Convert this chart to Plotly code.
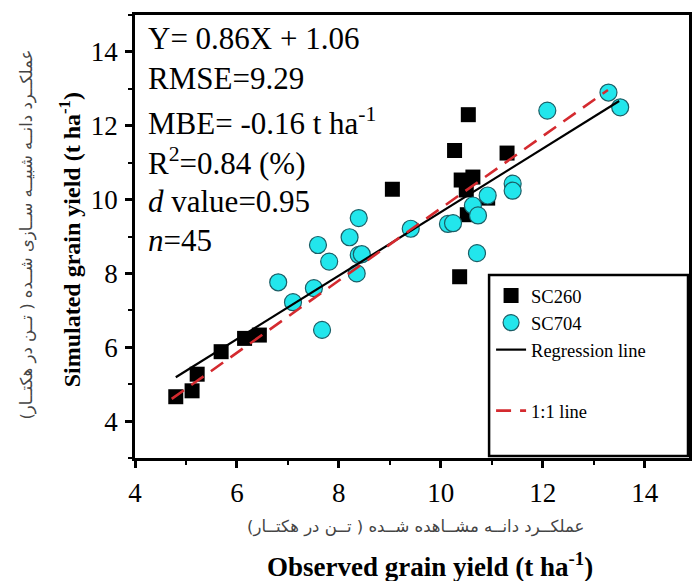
import plotly.graph_objects as go

# ---- data ----
sc260_x = [4.80, 5.12, 5.22, 5.69, 6.15, 6.44, 9.05, 10.54, 10.27, 11.30, 10.40, 10.63, 10.50, 10.92, 10.52, 10.37]
sc260_y = [4.66, 4.82, 5.27, 5.88, 6.24, 6.33, 10.28, 12.30, 11.33, 11.26, 10.53, 10.61, 10.26, 10.04, 9.59, 7.91]

sc704_x = [7.10, 6.81, 7.51, 7.67, 7.59, 7.81, 8.21, 8.39, 8.39, 8.45, 8.35, 9.41, 10.14, 10.24,
           10.63, 10.73, 10.92, 11.41, 11.41, 10.71, 12.09, 13.29, 13.52]
sc704_y = [7.22, 7.76, 7.60, 6.47, 8.77, 8.32, 8.98, 9.50, 8.50, 8.52, 8.00, 9.21, 9.34, 9.36,
           9.84, 9.57, 10.11, 10.43, 10.24, 8.55, 12.41, 12.90, 12.50]

slope, intercept = 0.86, 1.06
reg_x = [4.8, 13.5]
one_x = [4.72, 13.28]          # 1:1 line as drawn in the picture
one_y = [4.60, 12.97]

stats_lines = [
    "Y= 0.86X + 1.06",
    "RMSE=9.29",
    "MBE= -0.16 t ha<sup>-1</sup>",
    "R<sup>2</sup>=0.84 (%)",
    "<i>d</i> value=0.95",
    "<i>n</i>=45",
]

x_ticks = [4, 6, 8, 10, 12, 14]
y_ticks = [4, 6, 8, 10, 12, 14]

SERIF = "Liberation Serif, Times New Roman, serif"

fig = go.Figure()
fig.add_trace(go.Scatter(
    x=sc260_x, y=sc260_y, mode="markers", name="SC260", legendgroup="a",
    marker=dict(symbol="square", size=15, color="black", line=dict(width=0)),
))
fig.add_trace(go.Scatter(
    x=sc704_x, y=sc704_y, mode="markers", name="SC704", legendgroup="a",
    marker=dict(symbol="circle", size=17, color="#22E6EC", line=dict(width=1.2, color="#1B5E66")),
))
fig.add_trace(go.Scatter(
    x=reg_x, y=[slope * v + intercept for v in reg_x], mode="lines", name="Regression line",
    legendgroup="a", line=dict(color="black", width=2.2),
))
fig.add_trace(go.Scatter(
    x=one_x, y=one_y, mode="lines", name="1:1 line", legendgroup="c",
    line=dict(color="#D42A2F", width=2.6, dash="15px,9px"),
))

L, T, B = 135, 15, 123
W, H = 692, 581
ph = H - T - B
pw = W - L

def py(p):
    return (H - B - p) / ph

def px(p):
    return (p - L) / pw

centers = [38, 79, 121, 162, 201, 240]
for txt, c in zip(stats_lines, centers):
    fig.add_annotation(text=txt, xref="paper", yref="paper", x=px(146), y=py(c),
                       xanchor="left", yanchor="middle", showarrow=False,
                       font=dict(family=SERIF, size=31, color="black"))

# axis titles
fig.add_annotation(text="Simulated grain yield (t ha<sup>-1</sup>)", textangle=-90,
                   xref="paper", yref="paper", x=px(70), y=py(240), xanchor="center", yanchor="middle",
                   showarrow=False, font=dict(family=SERIF, size=24, color="black", weight="bold"))
fig.add_annotation(text="عملکــرد دانــه شبیــه ســازی شــده ( تــن در هکتــار)", textangle=-90,
                   xref="paper", yref="paper", x=px(26), y=py(235), xanchor="center", yanchor="middle",
                   showarrow=False, font=dict(family="DejaVu Sans", size=16.5, color="#444444"))
fig.add_annotation(text="Observed grain yield (t ha<sup>-1</sup>)",
                   xref="paper", yref="paper", x=px(432), y=py(565), xanchor="center", yanchor="middle",
                   showarrow=False, font=dict(family=SERIF, size=27, color="black", weight="bold"))
fig.add_annotation(text="عملکــرد دانــه مشــاهده شــده ( تــن در هکتــار)",
                   xref="paper", yref="paper", x=px(417), y=py(527), xanchor="center", yanchor="middle",
                   showarrow=False, font=dict(family="DejaVu Sans", size=16.5, color="#444444"))

# legend box
fig.add_shape(type="rect", xref="paper", yref="paper", x0=px(491), x1=px(691), y0=py(456), y1=py(275),
              line=dict(color="black", width=2.5), fillcolor="rgba(0,0,0,0)", layer="above")

axis_common = dict(showline=True, linecolor="black", linewidth=2.5, mirror=True,
                   ticks="outside", ticklen=7, tickwidth=2.5, tickcolor="black",
                   showgrid=False, zeroline=False,
                   tickfont=dict(family=SERIF, size=27, color="black"),
                   minor=dict(ticks="outside", ticklen=4, tickwidth=2, tickcolor="black", dtick=1))

fig.update_xaxes(range=[4, 14.87], tickvals=x_ticks, ticklabelstandoff=2, **axis_common)
fig.update_yaxes(range=[3, 15], tickvals=y_ticks, ticklabelstandoff=2, **axis_common)

fig.update_layout(
    width=W, height=H,
    margin=dict(l=L, r=0, t=T, b=B, pad=0),
    plot_bgcolor="white", paper_bgcolor="white",
    showlegend=True,
    legend=dict(x=px(493), y=py(277), xanchor="left", yanchor="top",
                bgcolor="rgba(0,0,0,0)", borderwidth=0,
                font=dict(family=SERIF, size=18.5, color="black"),
                traceorder="grouped", tracegroupgap=34, itemwidth=30),
)

fig.write_html("out.html")
